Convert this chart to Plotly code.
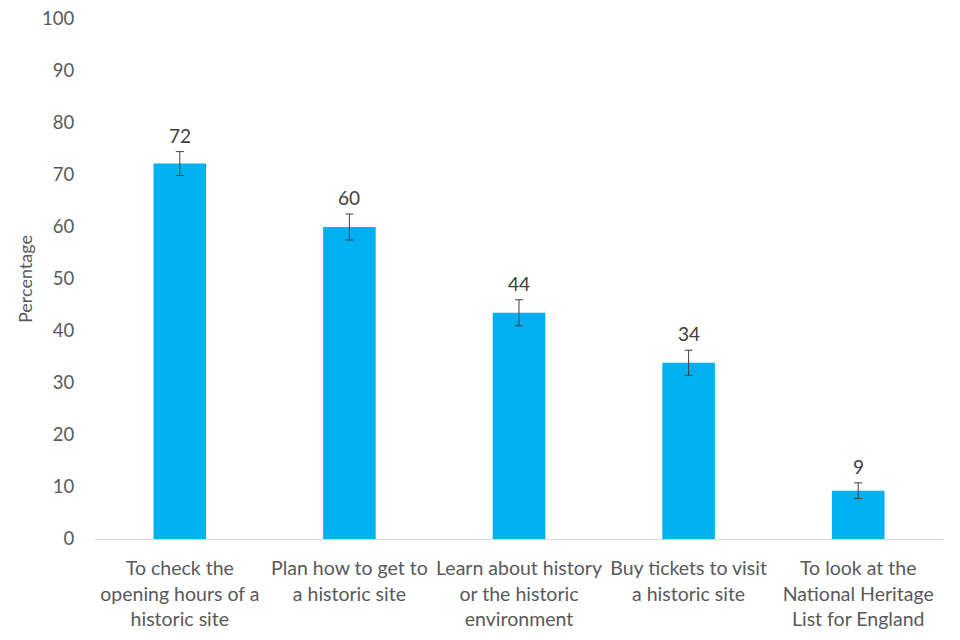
import plotly.graph_objects as go

categories = [
    "To check the<br>opening hours of a<br>historic site",
    "Plan how to get to<br>a historic site",
    "Learn about history<br>or the historic<br>environment",
    "Buy tickets to visit<br>a historic site",
    "To look at the<br>National Heritage<br>List for England",
]
values = [72.2, 60.0, 43.5, 33.9, 9.3]
errors = [2.3, 2.5, 2.5, 2.4, 1.5]
labels = ["72", "60", "44", "34", "9"]
y_ticks = list(range(0, 101, 10))

FONT = "Lato"
GREY = "#595959"

fig = go.Figure()
fig.add_trace(go.Bar(
    x=categories, y=values,
    marker=dict(color="#00B0F0", line=dict(width=0)),
    width=0.31,
    error_y=dict(type="data", array=errors, visible=True,
                 color="#404040", thickness=1, width=4),
    hoverinfo="skip",
))

for c, v, e, t in zip(categories, values, errors, labels):
    fig.add_annotation(
        x=c, y=v + e, text=t, showarrow=False,
        yanchor="bottom", yshift=3,
        font=dict(family=FONT, size=19, color="#404040"),
    )

fig.update_layout(
    width=960, height=640,
    margin=dict(l=87, r=25, t=11, b=109, autoexpand=False),
    plot_bgcolor="white", paper_bgcolor="white",
    showlegend=False,
    bargap=0.69,
)
fig.update_xaxes(
    automargin=False,
    showgrid=False, showline=True, linecolor="#D9D9D9", linewidth=1,
    ticks="outside", ticklen=12, tickcolor="rgba(0,0,0,0)",
    tickfont=dict(family=FONT, size=19.5, color=GREY),
    tickangle=0, ticklabeloverflow="allow",
)
fig.update_yaxes(
    automargin=False,
    range=[0, 100], tickvals=y_ticks, showgrid=False, zeroline=False,
    showline=False,
    ticks="outside", ticklen=16, tickcolor="rgba(0,0,0,0)",
    tickfont=dict(family=FONT, size=18.5, color=GREY),
    ticklabeloverflow="allow",
    title=dict(text="Percentage", font=dict(family=FONT, size=18, color=GREY), standoff=4),
)

fig.write_html("out.html")
